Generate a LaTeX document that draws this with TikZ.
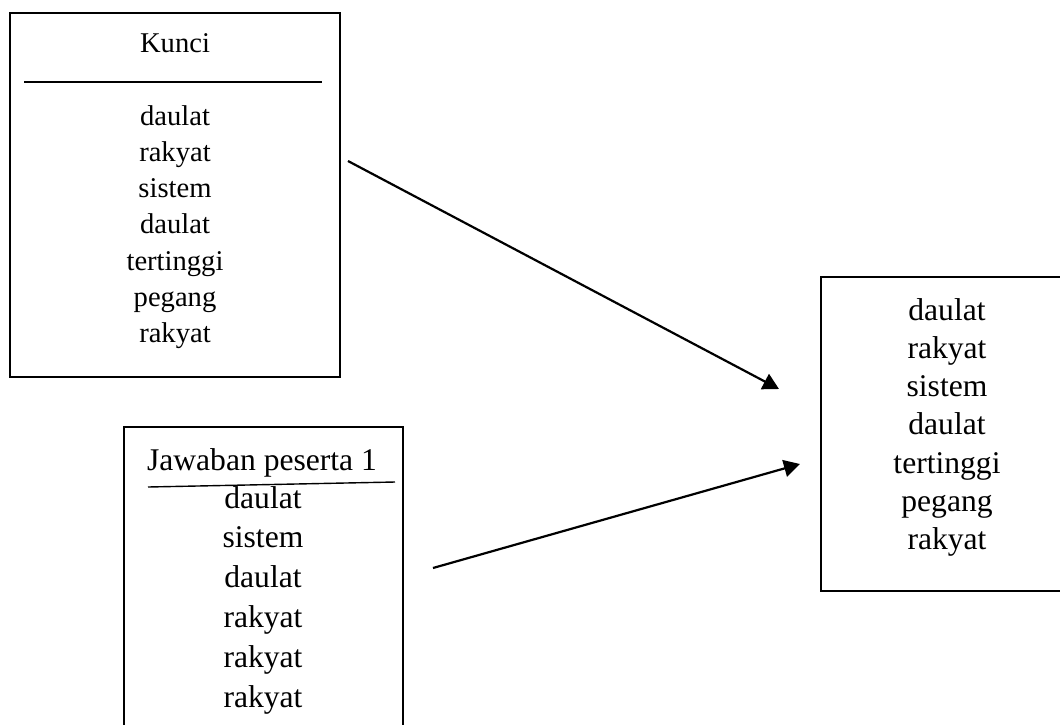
\documentclass[tikz,border=0pt]{standalone}
\usepackage{fontspec}
\setmainfont{Liberation Serif}
\usetikzlibrary{arrows.meta,positioning}

\begin{document}
\begin{tikzpicture}[x=0.5pt, y=-0.5pt, box/.style={rectangle,draw,line width=1.4pt,inner sep=0pt}, small word/.style={anchor=base,inner sep=0pt,font=\fontsize{14.3}{17}\selectfont}, big word/.style={anchor=base,inner sep=0pt,font=\fontsize{15.8}{19}\selectfont}, link/.style={-{Triangle[length=8pt,width=8.5pt]},line width=1.1pt}]
\clip (0,0) rectangle (1060,724);
\begin{scope}
\node[box, minimum width=165pt, minimum height=182pt] (kunci) at (175,195) {};
\node[box, minimum width=139.5pt, minimum height=156.5pt] (jawab) at (263.5,583.5) {};
\node[box, minimum width=127pt, minimum height=157pt] (hasil) at (948,434) {};
\end{scope}
% isi kotak
\node[small word] (kt) at (175,52) {Kunci};
\draw[line width=0.7pt] (24,82) coordinate (kl) -- (322,82) coordinate (kr);
\foreach \w [count=\i] in {daulat,rakyat,sistem,daulat,tertinggi,pegang,rakyat}
  \node[small word] (k\i) at (175,125+36.3*\i-36.3) {\w};
\node[big word] (jt) at (262,470) {Jawaban peserta 1};
\draw[line width=0.7pt] (148,487) coordinate (jl) -- (395,482) coordinate (jr);
\foreach \w [count=\i] in {daulat,sistem,daulat,rakyat,rakyat,rakyat}
  \node[big word] (j\i) at (263,508+39.8*\i-39.8) {\w};
\foreach \w [count=\i] in {daulat,rakyat,sistem,daulat,tertinggi,pegang,rakyat}
  \node[big word] (h\i) at (947,320+38.3*\i-38.3) {\w};
% panah
\coordinate (a1) at (348,161);
\coordinate (b1) at (779,389);
\coordinate (a2) at (433,568);
\coordinate (b2) at (800,464);
\draw[link] (a1) -- (b1);
\draw[link] (a2) -- (b2);
\end{tikzpicture}
\end{document}
